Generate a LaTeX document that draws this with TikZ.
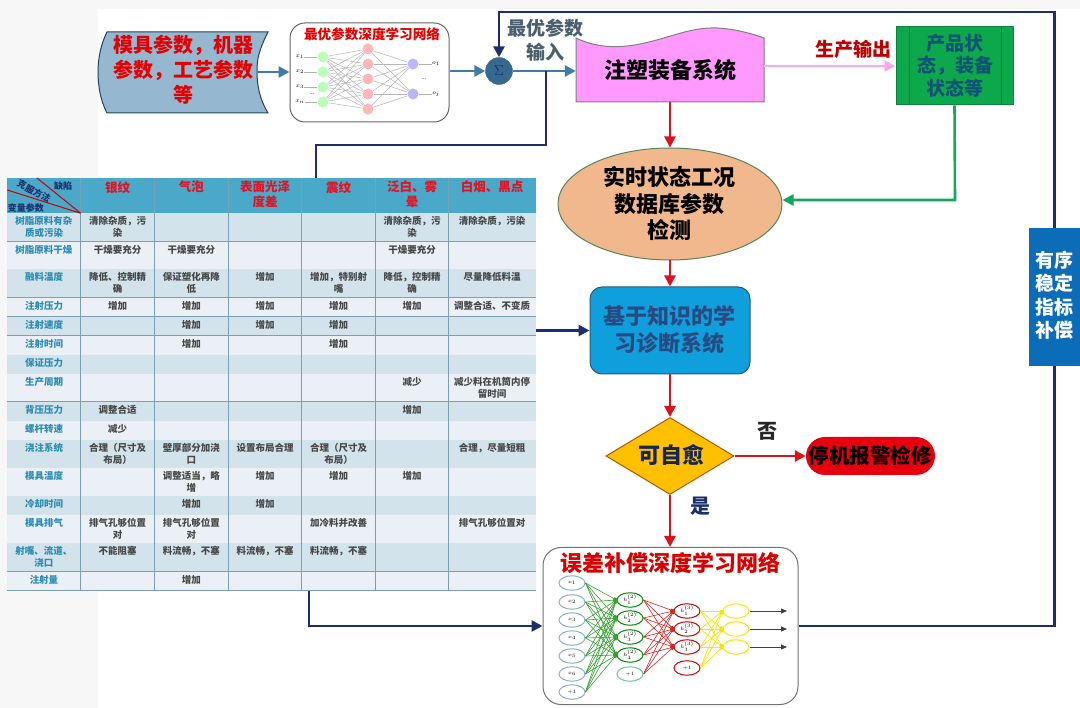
\documentclass[tikz,border=0pt]{standalone}
\usepackage{fontspec}
\setmainfont{Noto Sans CJK SC}
\usetikzlibrary{arrows.meta,shapes.geometric,positioning,calc}
\definecolor{bgout}{HTML}{F7F7F7}
\definecolor{navy}{HTML}{1B2F6E}
\definecolor{steel}{HTML}{3F7CA8}
\definecolor{redline}{HTML}{D9141E}
\definecolor{pinkfill}{HTML}{FF99FF}
\definecolor{pinkline}{HTML}{FFA8F0}
\definecolor{greenbox}{HTML}{0DA84C}
\definecolor{greenline}{HTML}{16A85A}
\definecolor{head}{HTML}{4AA8C8}
\definecolor{rowd}{HTML}{D3E3EC}
\definecolor{rowl}{HTML}{EAF0F5}
\definecolor{gridc}{HTML}{7C9FB8}
\definecolor{rowtxt}{HTML}{2A8CB5}
\definecolor{cellred}{HTML}{E8101E}
\newcommand\fsz[2]{\fontsize{#1}{#2}\selectfont}
\tikzset{
  flow/.style={line width=2.6pt,-{Triangle[length=11pt,width=11pt]}},
  steelarrow/.style={flow,draw=steel,color=steel},
  navyarrow/.style={flow,draw=navy,color=navy},
  redarrow/.style={flow,draw=redline,color=redline},
  navyplain/.style={line width=2.6pt,draw=navy},
  txt/.style={inner sep=0pt,align=center},
  tcell/.style={txt,anchor=north,font=\fsz{9.5}{11.7}\bfseries,text=black!72},
  tlabel/.style={tcell,text=rowtxt},
  thead/.style={txt,anchor=north,font=\fsz{12.5}{15}\bfseries,text=cellred},
  diag/.style={txt,font=\fsz{9}{10}\bfseries,text=navy},
  bigtxt/.style={txt,font=\fsz{22}{26.5}\bfseries,text=black},
  nna/.style={circle,inner sep=0pt,minimum size=13pt,draw=none},
  nnb/.style={ellipse,inner sep=0pt,minimum width=26pt,minimum height=14.5pt,line width=1pt,fill=white},
  nnlab/.style={txt,font=\fsz{6}{6}},
  edgeg/.style={draw=green!55!black!80,line width=.6pt,-{Square[length=3pt,width=3pt]}},
  edger/.style={draw=red!80!black!85,line width=.6pt,-{Square[length=3pt,width=3pt]}},
  edgey/.style={draw=yellow!85!orange,line width=.7pt,-{Square[length=3pt,width=3pt]}},
}
\def\cxA{44}\def\cxB{117.5}\def\cxC{191.3}\def\cxD{265}\def\cxE{338.5}\def\cxF{412}\def\cxG{492}
\def\ryA{213.3}\def\ryB{241.7}\def\ryC{269.3}\def\ryD{297.7}\def\ryE{316.7}\def\ryF{335.7}\def\ryG{355}\def\ryH{374}
\def\ryI{401.7}\def\ryJ{421}\def\ryK{440}\def\ryL{468.3}\def\ryM{496}\def\ryN{515}\def\ryO{543.3}\def\ryP{571.7}
\newcommand\tc[3]{\node[tcell] (cell-#1-#2) at (\csname cx#1\endcsname,\csname ry#2\endcsname+3) {#3};}
\newcommand\tl[2]{\node[tlabel] (cell-A-#1) at (\cxA,\csname ry#1\endcsname+3) {#2};}
\newcommand\band[4]{\fill[#4] (7.3,#1) rectangle (535.7,#2);\draw[gridc,line width=.7pt] (7.3,#2) -- (535.7,#2);}
\begin{document}
\begin{tikzpicture}[x=1pt,y=-1pt]
\useasboundingbox (0,0) rectangle (1080,708);
\fill[bgout] (0,0) rectangle (1080,708);
\fill[white] (98,9) rectangle (1080,708);

% ---- input shape
\fill[draw=black!45!steel,fill=steel!55!white,line width=1pt] (107,32) -- (268,32) .. controls (258,52) and (257,60) .. (257,72) .. controls (257,86) and (260,100) .. (268,113) -- (107,113) .. controls (100,100) and (98,84) .. (98,72) .. controls (98,58) and (101,44) .. (107,32) -- cycle;
\node[txt,font=\fsz{20}{25}\bfseries,text=red!90!black,minimum width=150pt] (input) at (183,70) {模具参数，机器\\参数，工艺参数\\等};
\coordinate (inR) at (257,72);

% ---- first network
\node[draw=black!60,fill=white,line width=1pt,rounded corners=15pt,minimum width=159pt,minimum height=99pt,inner sep=0pt] (nnone) at (369.5,72.5) {};
\node[txt,font=\fsz{13.6}{16}\bfseries,text=red!90!black] (nnonetitle) at (372,34) {最优参数深度学习网络};
\foreach \i/\y in {1/57,2/72,3/87,4/102} \node[nna,fill=green!28!white,minimum size=11pt] (p\i) at (323,\y) {};
\foreach \i/\y in {1/49,2/64,3/79,4/94,5/109} \node[nna,fill=red!28!white,minimum size=11pt] (q\i) at (368,\y) {};
\foreach \i/\y in {1/64,2/94} \node[nna,fill=blue!28!white,minimum size=11pt] (s\i) at (413,\y) {};
\foreach \i in {1,...,4} \foreach \j in {1,...,5} \draw[black!28,line width=.5pt] (p\i) -- (q\j);
\foreach \i in {1,...,5} \foreach \j in {1,2} \draw[black!28,line width=.5pt] (q\i) -- (s\j);
\foreach \i/\y/\t in {1/57/1,2/72/2,3/87/3,4/102/n} {
  \node[nnlab] (xl\i) at (300,\y) {$x_\t$};
  \draw[black!30,line width=.5pt] (xl\i) -- (p\i);
}
\foreach \i/\y/\t in {1/64/1,2/94/j} {
  \node[nnlab] (ol\i) at (436,\y) {$o_\t$};
  \draw[black!30,line width=.5pt] (s\i) -- (ol\i);
}
\node[nnlab] (dotsa) at (312,94) {...};
\node[nnlab] (dotsb) at (424,79) {...};

% ---- sigma
\node[circle,fill=steel!85!black,draw=steel!85!black,minimum size=27pt,inner sep=0pt,text=navy,font=\fsz{14}{14}] (sigma) at (499,71) {$\Sigma$};
\draw[steelarrow] (inR) -- (nnone.west |- inR);
\draw[steelarrow] (nnone.east |- sigma) -- (sigma);

% ---- pump
\fill[pinkfill,draw=black!50,line width=1pt] (576,38) .. controls (595,47) and (615,49) .. (640,44) .. controls (670,38) and (690,27) .. (717,28) .. controls (735,29) and (750,33) .. (764,38) -- (764,102) -- (576,102) -- cycle;
\node[bigtxt,minimum width=188pt,minimum height=64pt] (pump) at (670,70) {注塑装备系统};
\draw[steelarrow] (sigma) -- (sigma -| pump.west);
\coordinate (pumpR) at (764,66);
\coordinate (branch) at (546,71);
\coordinate (kneeA) at (546,145);
\coordinate (kneeB) at (316,145);
\coordinate (tabTop) at (316,178);
\draw[navyplain] (branch) -- (kneeA) -- (kneeB) -- (tabTop);

\node[txt,font=\fsz{19}{23}\bfseries,text=steel!45!black!80] (optA) at (545,28) {最优参数};
\node[txt,font=\fsz{19}{23}\bfseries,text=steel!45!black!80] (optB) at (545,52) {输入};

% ---- product box
\node[fill=greenbox,draw=black!20!greenbox,line width=1pt,minimum width=117pt,minimum height=78pt,inner sep=0pt] (prod) at (954.5,66) {};
\draw[black!30!greenbox,line width=.8pt] (909,27) -- (909,105) (1001,27) -- (1001,105);
\node[txt,font=\fsz{19}{22.5}\bfseries,text=navy!55!teal] (prodtxt) at (955,65.5) {产品状\\态，装备\\状态等};
\draw[flow,draw=pinkline,color=pinkline] (pumpR) -- (prod.west);
\node[txt,font=\fsz{19}{23}\bfseries,text=red!75!black] (outlab) at (853,49) {生产输出};

% ---- ellipse
\node[ellipse,fill={rgb,255:red,240;green,184;blue,140},draw=black!45!green!30!gray,line width=1pt,minimum width=224pt,minimum height=112pt,inner sep=0pt] (state) at (670,204) {};
\node[bigtxt] (statetxt) at (669,203.5) {实时状态工况\\数据库参数\\检测};
\draw[redarrow] (pump.south) -- (state.north);
\coordinate (gknee) at (955,200);
\draw[flow,draw=greenline,color=greenline] (prod.south) -- (gknee) -- (state.east |- gknee);

% ---- diagnosis
\node[rounded corners=12pt,fill={rgb,255:red,15;green,159;blue,220},draw=steel!70!black,line width=1pt,minimum width=160pt,minimum height=87pt,inner sep=0pt] (diag) at (670,330.5) {};
\node[txt,font=\fsz{22}{27}\bfseries,text=navy!65!steel] (diagtxt) at (669,329.5) {基于知识的学\\习诊断系统};
\draw[redarrow] (state.south) -- (diag.north);

% ---- decision
\node[diamond,aspect=1.66,fill={rgb,255:red,255;green,192;blue,0},draw=orange!70!black,line width=1pt,inner sep=0pt,minimum width=128pt,minimum height=77pt] (dec) at (670,456) {};
\node[txt,font=\fsz{22}{26}\bfseries,text=navy!80!black] (dectxt) at (671,455) {可自愈};
\draw[redarrow] (diag.south) -- (dec.north);
\node[rounded corners=19pt,fill={rgb,255:red,232;green,0;blue,15},minimum width=129pt,minimum height=38pt,inner sep=0pt] (stop) at (870.5,456) {};
\node[txt,font=\fsz{20.5}{24}\bfseries,text=black] (stoptxt) at (870,456) {停机报警检修};
\draw[redarrow] (dec.east) -- (stop.west);
\node[txt,font=\fsz{20}{24}\bfseries,text=black!85] (nolab) at (767,431) {否};
\node[txt,font=\fsz{20}{24}\bfseries,text=navy] (yeslab) at (700,506) {是};

% ---- second network
\node[draw=black!55,fill=white,line width=1pt,rounded corners=18pt,minimum width=255pt,minimum height=157pt,inner sep=0pt] (nntwo) at (670.5,626) {};
\node[txt,font=\fsz{22}{26}\bfseries,text=red!85!black] (nntwotitle) at (670,563) {误差补偿深度学习网络};
\draw[redarrow] (dec.south) -- (dec.south |- nntwo.north);
\foreach \i/\y/\t in {1/583/$x_1$,2/602/$x_2$,3/620/$x_3$,4/638/$x_4$,5/656/$x_5$,6/674/$x_6$,7/692/$+1$}
  \node[nnb,draw=steel!60!white,font=\fsz{5}{5}] (a\i) at (572,\y) {\t};
\foreach \i/\y/\t in {1/600/$h_1^{(2)}$,2/618/$h_2^{(2)}$,3/637/$h_3^{(2)}$,4/655/$h_4^{(2)}$}
  \node[nnb,draw=green!55!black,font=\fsz{5}{5}] (b\i) at (630,\y) {\t};
\node[nnb,draw=steel!60!green!70,font=\fsz{5}{5}] (b5) at (630,674) {$+1$};
\foreach \i/\y/\t in {1/611/$h_1^{(3)}$,2/629/$h_2^{(3)}$,3/647/$h_3^{(3)}$,4/668/$+1$}
  \node[nnb,draw=red!80!black,font=\fsz{5}{5}] (c\i) at (687,\y) {\t};
\foreach \i/\y in {1/611,2/629,3/647}
  \node[nnb,draw=yellow!85!orange] (d\i) at (736,\y) {};
\foreach \i in {1,...,7} \foreach \j in {1,...,4} \draw[edgeg] (a\i.east) -- (b\j.west);
\foreach \i in {1,...,5} \foreach \j in {1,2,3} \draw[edger] (b\i.east) -- (c\j.west);
\foreach \i in {1,...,4} \foreach \j in {1,2,3} \draw[edgey] (c\i.east) -- (d\j.west);
\foreach \i/\y in {1/611,2/629,3/647} {
  \coordinate (e\i) at (787,\y);
  \draw[black!75,line width=1pt,-{Triangle[length=6pt,width=5pt]}] (d\i.east) -- (e\i);
}

% ---- compensation box + feedback
\node[fill={rgb,255:red,11;green,108;blue,184},minimum width=51pt,minimum height=138pt,inner sep=0pt] (comp) at (1054.5,297) {};
\node[txt,font=\fsz{19}{23.5}\bfseries,text=white] (comptxt) at (1054.5,295) {有序\\稳定\\指标\\补偿};
\coordinate (fbA) at (1054.5,12);
\coordinate (fbB) at (499,12);
\draw[navyarrow] (comp.north) -- (fbA) -- (fbB) -- (sigma.north);
\coordinate (fbC) at (1054.5,626);
\draw[navyplain] (nntwo.east |- fbC) -- (fbC) -- (comp.south);

% ---- table
\fill[white] (7.3,178) rectangle (535.7,590.7);
\fill[head] (7.3,178) rectangle (535.7,213.3);
\draw[gridc,line width=.7pt] (7.3,213.3) -- (535.7,213.3);
\band{213.3}{241.7}{}{rowd}\band{241.7}{269.3}{}{rowl}\band{269.3}{297.7}{}{rowd}\band{297.7}{316.7}{}{rowl}
\band{316.7}{335.7}{}{rowd}\band{335.7}{355}{}{rowl}\band{355}{374}{}{rowd}\band{374}{401.7}{}{rowl}
\band{401.7}{421}{}{rowd}\band{421}{440}{}{rowl}\band{440}{468.3}{}{rowd}\band{468.3}{496}{}{rowl}
\band{496}{515}{}{rowd}\band{515}{543.3}{}{rowl}\band{543.3}{571.7}{}{rowd}\band{571.7}{590.7}{}{rowl}
\foreach \x in {80.7,154.3,228.3,301.7,375.3,448.3}
  \draw[gridc,line width=.7pt] (\x,178) -- (\x,590.7);
\draw[red!80!black,line width=1pt] (80.7,213.3) -- (37,178) (80.7,213.3) -- (7.3,190);
\node[diag] (hdA) at (63,186) {缺陷};
\node[diag,rotate=-27] (hdB) at (34,191) {克服方法};
\node[diag] (hdC) at (26,208.5) {变量参数};
\foreach \c/\x/\t in {B/\cxB/银纹,C/\cxC/气泡,D/\cxD/表面光泽\\度差,E/\cxE/震纹,F/\cxF/泛白、雾\\晕,G/\cxG/白烟、黑点}
  \node[thead] (hd\c) at (\x,181) {\t};

\tl{A}{树脂原料有杂\\质或污染}\tc{B}{A}{清除杂质，污\\染}\tc{F}{A}{清除杂质，污\\染}\tc{G}{A}{清除杂质，污染}
\tl{B}{树脂原料干燥}\tc{B}{B}{干燥要充分}\tc{C}{B}{干燥要充分}\tc{F}{B}{干燥要充分}
\tl{C}{融料温度}\tc{B}{C}{降低、控制精\\确}\tc{C}{C}{保证塑化再降\\低}\tc{D}{C}{增加}\tc{E}{C}{增加，特别射\\嘴}\tc{F}{C}{降低，控制精\\确}\tc{G}{C}{尽量降低料温}
\tl{D}{注射压力}\tc{B}{D}{增加}\tc{C}{D}{增加}\tc{D}{D}{增加}\tc{E}{D}{增加}\tc{F}{D}{增加}\tc{G}{D}{调整合适、不变质}
\tl{E}{注射速度}\tc{C}{E}{增加}\tc{D}{E}{增加}\tc{E}{E}{增加}
\tl{F}{注射时间}\tc{C}{F}{增加}\tc{E}{F}{增加}
\tl{G}{保证压力}
\tl{H}{生产周期}\tc{F}{H}{减少}\tc{G}{H}{减少料在机筒内停\\留时间}
\tl{I}{背压压力}\tc{B}{I}{调整合适}\tc{F}{I}{增加}
\tl{J}{螺杆转速}\tc{B}{J}{减少}
\tl{K}{浇注系统}\tc{B}{K}{合理（尺寸及\\布局）}\tc{C}{K}{壁厚部分加浇\\口}\tc{D}{K}{设置布局合理}\tc{E}{K}{合理（尺寸及\\布局）}\tc{G}{K}{合理，尽量短粗}
\tl{L}{模具温度}\tc{C}{L}{调整适当，略\\增}\tc{D}{L}{增加}\tc{E}{L}{增加}\tc{F}{L}{增加}
\tl{M}{冷却时间}\tc{C}{M}{增加}\tc{D}{M}{增加}
\tl{N}{模具排气}\tc{B}{N}{排气孔够位置\\对}\tc{C}{N}{排气孔够位置\\对}\tc{E}{N}{加冷料并改善}\tc{G}{N}{排气孔够位置对}
\tl{O}{射嘴、流道、\\浇口}\tc{B}{O}{不能阻塞}\tc{C}{O}{料流畅，不塞}\tc{D}{O}{料流畅，不塞}\tc{E}{O}{料流畅，不塞}
\tl{P}{注射量}\tc{C}{P}{增加}

% ---- table connectors
\coordinate (tabR) at (535.7,330.5);
\draw[navyarrow] (tabR) -- (tabR -| diag.west);
\coordinate (tabB) at (309,590.7);
\coordinate (tabK) at (309,626);
\draw[navyarrow] (tabB) -- (tabK) -- (nntwo.west |- tabK);
\end{tikzpicture}
\end{document}
